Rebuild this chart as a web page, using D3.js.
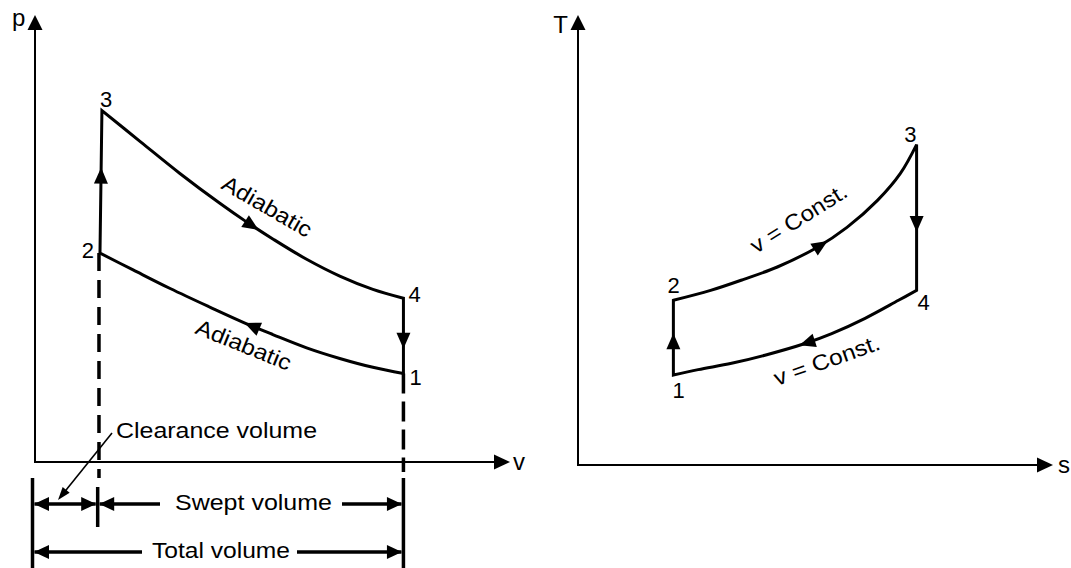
<!DOCTYPE html>
<html><head><meta charset="utf-8">
<script src="https://cdn.jsdelivr.net/npm/d3@7"></script>
<style>
html,body{margin:0;padding:0;background:#fff;}
svg{display:block;}
text{font-family:"Liberation Sans",Arial,Helvetica,sans-serif;fill:#000;}
</style></head><body>
<svg id="chart" width="1071" height="568"></svg>
<script>
// ---------- p-v diagram data (v: clearance volume = 1, p: p1 = 1) ----------
const pvStates = ["1", "2", "3", "4"];
const pvV = [5.67, 1.00, 1.03, 5.67];
const pvP = [1.00, 2.36, 3.97, 1.85];
// adiabatic expansion 3 -> 4
const expansionV = [1.03, 1.62, 2.23, 2.85, 3.26, 3.66, 4.18, 4.69, 5.20, 5.67];
const expansionP = [3.97, 3.62, 3.26, 2.92, 2.71, 2.52, 2.29, 2.10, 1.95, 1.85];
// adiabatic compression 1 -> 2
const compressionV = [5.67, 5.20, 4.69, 4.18, 3.66, 3.23, 2.69, 2.08, 1.51, 1.00];
const compressionP = [1.00, 1.07, 1.17, 1.29, 1.44, 1.57, 1.75, 1.96, 2.17, 2.36];

// ---------- T-s diagram data (s1 = 1, T1 = 1) ----------
const tsStates = ["1", "2", "3", "4"];
const tsS = [1.00, 1.00, 3.55, 3.55];
const tsT = [1.00, 1.83, 3.56, 1.94];
// constant volume heat addition 2 -> 3
const heatAddS = [1.00, 1.39, 1.73, 2.09, 2.51, 2.82, 3.14, 3.38, 3.55];
const heatAddT = [1.83, 1.94, 2.06, 2.20, 2.42, 2.64, 2.94, 3.24, 3.56];
// constant volume heat rejection 4 -> 1
const heatRejS = [3.55, 3.36, 3.01, 2.66, 2.38, 1.96, 1.61, 1.26, 1.00];
const heatRejT = [1.94, 1.83, 1.63, 1.46, 1.35, 1.22, 1.13, 1.06, 1.00];

// labels
const pvAxisLabels = ["v", "p"];
const tsAxisLabels = ["s", "T"];
const processLabelsPV = ["Adiabatic", "Adiabatic"];
const processLabelsTS = ["v = Const.", "v = Const."];
const volumeLabels = ["Clearance volume", "Swept volume", "Total volume"];

// ---------- drawing ----------
const svg = d3.select("#chart");
const xPV = d3.scaleLinear().domain([0, 7.31]).range([35, 510]);
const yPV = d3.scaleLinear().domain([0, 5.05]).range([462, 15]);
const xTS = d3.scaleLinear().domain([0, 4.98]).range([578, 1053]);
const yTS = d3.scaleLinear().domain([0, 5.00]).range([465, 15]);

function arrowHead(g, tip, ang, len, wid) {
  const [x, y] = tip;
  const bx = x - len * Math.cos(ang), by = y - len * Math.sin(ang);
  const nx = -Math.sin(ang) * wid / 2, ny = Math.cos(ang) * wid / 2;
  g.append("path")
    .attr("d", `M${x},${y}L${bx + nx},${by + ny}L${bx - nx},${by - ny}Z`)
    .attr("fill", "#000");
}

function drawAxes(g, xs, ys, labels, xLab, yLab) {
  const [x0, x1] = xs.range(), [y0, y1] = ys.range();
  g.append("path")
    .attr("d", `M${x0},${y1 + 12}L${x0},${y0}L${x1 - 14},${y0}`)
    .attr("fill", "none").attr("stroke", "#000").attr("stroke-width", 2);
  arrowHead(g, [x0, y1], -Math.PI / 2, 15, 15);
  arrowHead(g, [x1, y0], 0, 16, 15);
  g.append("text").attr("x", xLab[0]).attr("y", xLab[1])
    .attr("font-size", 24).text(labels[0]);
  g.append("text").attr("x", yLab[0]).attr("y", yLab[1])
    .attr("font-size", 24).attr("text-anchor", yLab[2] || "start").text(labels[1]);
}

function zip(a, b) { return a.map((d, i) => [d, b[i]]); }

function drawCycle(g, xs, ys, segments, arrowFracs) {
  const lin = d3.line().x(d => xs(d[0])).y(d => ys(d[1]));
  const cur = d3.line().x(d => xs(d[0])).y(d => ys(d[1])).curve(d3.curveCatmullRom.alpha(0.5));
  const ds = segments.map(s => (s.curve ? cur : lin)(s.pts));
  const full = ds.map((d, i) => i === 0 ? d : d.replace(/^M/, "L")).join("") + "Z";
  g.append("path").attr("d", full).attr("fill", "none")
    .attr("stroke", "#000").attr("stroke-width", 3).attr("stroke-linejoin", "miter");
  ds.forEach((d, i) => {
    const p = g.append("path").attr("d", d).attr("fill", "none").attr("stroke", "none");
    const node = p.node(), L = node.getTotalLength(), l = arrowFracs[i] * L;
    const a = node.getPointAtLength(Math.max(0, l - 3));
    const b = node.getPointAtLength(Math.min(L, l + 1));
    const t = node.getPointAtLength(l);
    arrowHead(g, [t.x, t.y], Math.atan2(b.y - a.y, b.x - a.x), 16, 14);
    p.remove();
  });
}

function stateLabels(g, xs, ys, S, V, P, offs) {
  S.forEach((s, i) => {
    const o = offs[i];
    g.append("text").attr("x", xs(V[i]) + o[0]).attr("y", ys(P[i]) + o[1])
      .attr("text-anchor", o[2]).attr("font-size", 22).text(s);
  });
}

function rotLabel(g, txt, x, y, ang, len) {
  g.append("text").attr("transform", `translate(${x},${y}) rotate(${ang})`)
    .attr("font-size", 22).attr("textLength", len).attr("lengthAdjust", "spacingAndGlyphs")
    .text(txt);
}

// ===== p-v =====
const gPV = svg.append("g");
drawAxes(gPV, xPV, yPV, pvAxisLabels, [513, 470], [12, 26]);
// dashed extension lines
const dimTop = 478, dimBot = 570;
gPV.append("line").attr("x1", xPV(pvV[1]) - 1).attr("x2", xPV(pvV[1]) - 1)
  .attr("y1", yPV(pvP[1])).attr("y2", dimTop)
  .attr("stroke", "#000").attr("stroke-width", 3.5).attr("stroke-dasharray", "18,9");
gPV.append("line").attr("x1", xPV(pvV[0])).attr("x2", xPV(pvV[0]))
  .attr("y1", yPV(pvP[0])).attr("y2", dimTop - 6)
  .attr("stroke", "#000").attr("stroke-width", 3.5).attr("stroke-dasharray", "20,8");

drawCycle(gPV, xPV, yPV, [
  { pts: [[pvV[1], pvP[1]], [pvV[2], pvP[2]]] },
  { pts: zip(expansionV, expansionP), curve: true },
  { pts: [[pvV[3], pvP[3]], [pvV[0], pvP[0]]] },
  { pts: zip(compressionV, compressionP), curve: true }
], [0.60, 0.55, 0.67, 0.51]);

stateLabels(gPV, xPV, yPV, pvStates, pvV, pvP,
  [[6, 12, "start"], [-6, 5, "end"], [-2, -4, "start"], [5, 4, "start"]]);

rotLabel(gPV, processLabelsPV[0], 220, 188, 30, 100);
rotLabel(gPV, processLabelsPV[1], 194, 333, 22, 101);

// dimension bars
const xL = xPV(0) - 2.5, xM = xPV(pvV[1]) - 2.3, xR = xPV(pvV[0]);
[[xL, dimTop, dimBot], [xM, 487, 527], [xR, dimTop, dimBot]].forEach(b => {
  gPV.append("line").attr("x1", b[0]).attr("x2", b[0]).attr("y1", b[1]).attr("y2", b[2])
    .attr("stroke", "#000").attr("stroke-width", 3.5);
});
function dimLine(xa, xb, y, label, tx, tlen, gapL, gapR) {
  const ty = y + 6;
  if (label) {
    gPV.append("text").attr("x", tx).attr("y", ty).attr("text-anchor", "middle")
      .attr("font-size", 22).attr("textLength", tlen).attr("lengthAdjust", "spacingAndGlyphs")
      .text(label);
  }
  const segs = label ? [[xa + 2, tx - tlen / 2 - gapL], [tx + tlen / 2 + gapR, xb - 2]] : [[xa + 2, xb - 2]];
  segs.forEach(s => {
    gPV.append("line").attr("x1", s[0]).attr("x2", s[1]).attr("y1", y).attr("y2", y)
      .attr("stroke", "#000").attr("stroke-width", 3.5);
  });
  arrowHead(gPV, [xa + 1.5, y], Math.PI, 15, 14);
  arrowHead(gPV, [xb - 1.5, y], 0, 15, 14);
}
dimLine(xL, xM, 504, null);
dimLine(xM, xR, 504, volumeLabels[1], 253.5, 157, 15, 10);
dimLine(xL, xR, 552, volumeLabels[2], 221, 138, 10, 7);

// clearance volume leader
gPV.append("text").attr("x", 116).attr("y", 438).attr("font-size", 22)
  .attr("textLength", 201).attr("lengthAdjust", "spacingAndGlyphs").text(volumeLabels[0]);
{
  const s = [112, 433], e = [58, 500];
  const ang = Math.atan2(e[1] - s[1], e[0] - s[0]);
  gPV.append("line").attr("x1", s[0]).attr("y1", s[1])
    .attr("x2", e[0] - 10 * Math.cos(ang)).attr("y2", e[1] - 10 * Math.sin(ang))
    .attr("stroke", "#000").attr("stroke-width", 1.6);
  arrowHead(gPV, e, ang, 13, 9);
}

// ===== T-s =====
const gTS = svg.append("g");
drawAxes(gTS, xTS, yTS, tsAxisLabels, [1058, 473], [568, 33, "end"]);
drawCycle(gTS, xTS, yTS, [
  { pts: [[tsS[0], tsT[0]], [tsS[1], tsT[1]]] },
  { pts: zip(heatAddS, heatAddT), curve: true },
  { pts: [[tsS[2], tsT[2]], [tsS[3], tsT[3]]] },
  { pts: zip(heatRejS, heatRejT), curve: true }
], [0.56, 0.555, 0.60, 0.50]);
stateLabels(gTS, xTS, yTS, tsStates, tsS, tsT,
  [[-1, 23, "start"], [-6, -7, "start"], [0, -3, "end"], [1, 20, "start"]]);
rotLabel(gTS, processLabelsTS[0], 756, 254, -32, 110);
rotLabel(gTS, processLabelsTS[1], 777, 386, -19.5, 111);
</script>
</body></html>
